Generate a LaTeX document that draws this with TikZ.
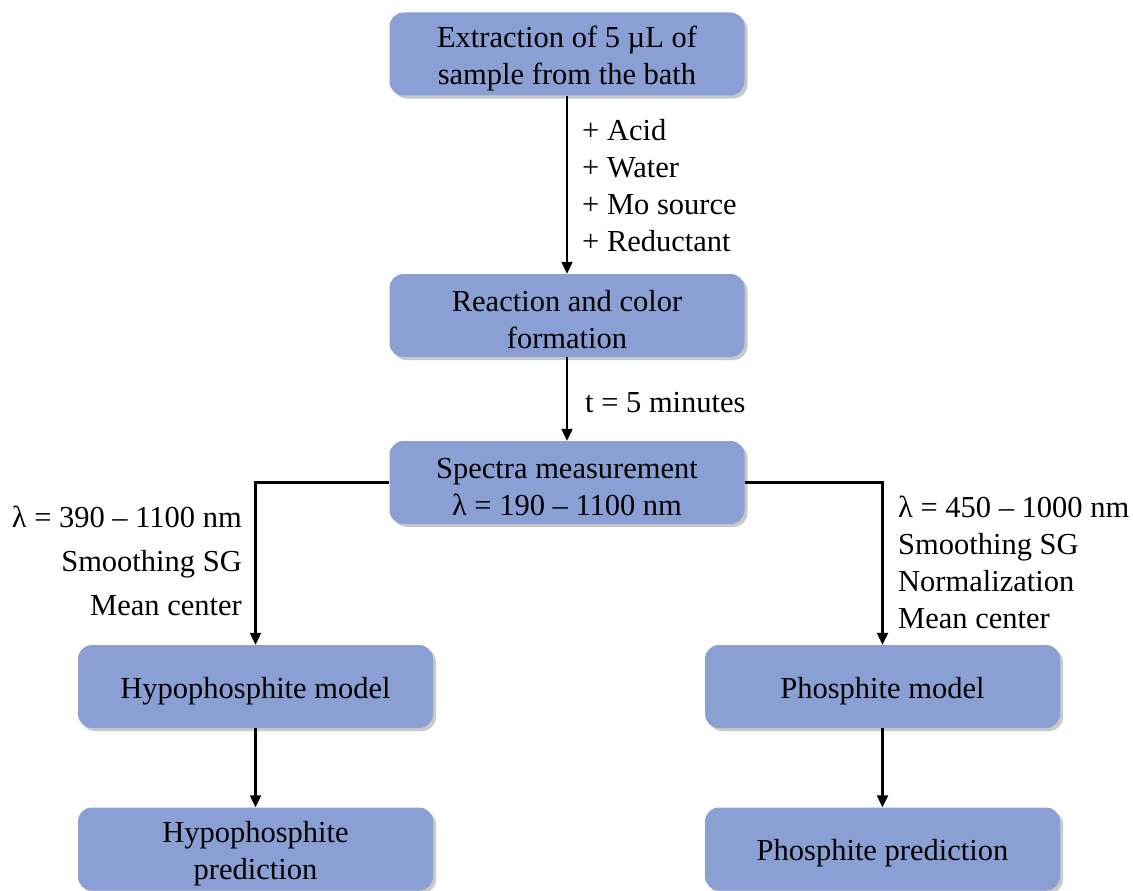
\documentclass[tikz,border=0pt]{standalone}
\usepackage{fontspec}
\setmainfont{Liberation Serif}
\usetikzlibrary{arrows.meta,shadows,positioning}
\definecolor{boxblue}{RGB}{138,159,211}
\newcommand\tup{\rule{0pt}{30pt}}
\tikzset{
  procbox/.style={fill=boxblue, draw=none, rounded corners=14pt,
    minimum width=355pt, minimum height=83pt, align=center, inner sep=0pt,
    font=\fontsize{30.5}{37}\selectfont,
    drop shadow={shadow xshift=3pt, shadow yshift=-3pt, opacity=0.3, fill=black!70}},
  lbl/.style={font=\fontsize{30.5}{37}\selectfont, inner sep=0pt},
  arr/.style={line width=2.2pt, -{Triangle[length=12pt,width=11pt]}}
}
\begin{document}
\begin{tikzpicture}[x=1pt,y=-1pt]
\useasboundingbox (0,0) rectangle (1133,891);
\node[procbox] (b1) at (567,54) {\tup Extraction of 5 µL of\\sample from the bath};
\node[procbox] (b2) at (567,315.5) {\tup Reaction and color\\formation};
\node[procbox] (b3) at (567,482.5) {\tup Spectra measurement\\λ = 190 – 1100 nm};
\node[procbox] (b4) at (255.5,686.5) {\tup Hypophosphite model};
\node[procbox] (b5) at (882.5,686.5) {\tup Phosphite model};
\node[procbox] (b6) at (255.5,849) {\tup Hypophosphite\\prediction};
\node[procbox] (b7) at (882.5,849) {\tup Phosphite prediction};

\draw[arr] (b1) -- (b2);
\draw[arr] (b2) -- (b3);
\draw[arr] (b3.west) -| (b4.north);
\draw[arr] (b3.east) -| (b5.north);
\draw[arr] (b4) -- (b6);
\draw[arr] (b5) -- (b7);

\node[lbl, anchor=west, align=left] (l1) at (582,186) {+ Acid\\+ Water\\+ Mo source\\+ Reductant};
\node[lbl, anchor=west] (l2) at (585,403) {t = 5 minutes};
\node[lbl, anchor=east, align=right] (l3) at (242,560.5) {λ = 390 – 1100 nm\\[7pt]Smoothing SG\\[7pt]Mean center};
\node[lbl, anchor=west, align=left] (l4) at (898,562.5) {λ = 450 – 1000 nm\\Smoothing SG\\Normalization\\Mean center};
\end{tikzpicture}
\end{document}
